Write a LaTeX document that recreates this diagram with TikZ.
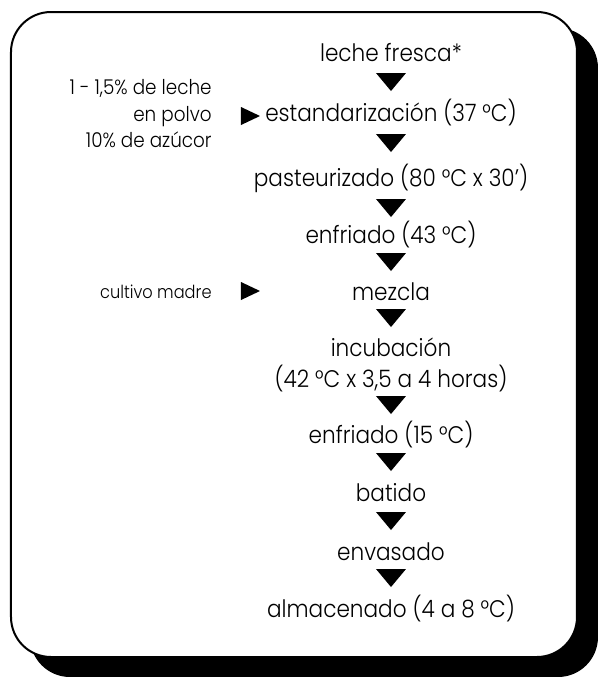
\documentclass[tikz,border=0pt]{standalone}
\usepackage{fontspec}
\setmainfont{Poppins}[UprightFont=* Light,FakeStretch=0.9]
\usetikzlibrary{calc}
\tikzset{
  paso/.style={font=\fontsize{12}{15.5}\selectfont,align=center,inner sep=0pt},
  aporte/.style={font=\fontsize{10.2}{13.25}\selectfont,align=right,anchor=east,inner sep=0pt},
  caja/.style={line width=1pt,rounded corners=20pt}
}
\begin{document}
\begin{tikzpicture}[x=0.5pt,y=-0.5pt]
\useasboundingbox (0,0) rectangle (598,677);
% caja con sombra
\fill[black,caja] (30,28) rectangle (598,677);
\draw[caja,fill=white] (11,12) rectangle (577,657);
% pasos del proceso
\foreach \n/\y/\t in {lf/53/{leche fresca*},es/113/{estandarización (37 °C)},
  pa/178/{pasteurizado (80 °C x 30')},e1/235/{enfriado (43 °C)},mz/292/{mezcla},
  in/364.5/{incubación\\(42 °C x 3,5 a 4 horas)},e2/435/{enfriado (15 °C)},
  bt/493/{batido},en/552/{envasado},al/609/{almacenado (4 a 8 °C)}}
  \node[paso] (\n) at (391,\y) {\t};
\foreach \y in {82,143,208,262,318,405,462,521,578}
  \fill (391,\y) ++(-15,-9) -- ++(30,0) -- ++(-15,18) -- cycle;
% aportes laterales
\node[aporte] (lp) at (212,114) {1 - 1,5\% de leche\\en polvo\\10\% de azúcor};
\node[aporte,font=\fontsize{9}{11}\selectfont] (cm) at (212,292) {cultivo madre};
\foreach \y in {116,291}
  \fill (250,\y) ++(-9,-9) -- ++(0,18) -- ++(19,-9) -- cycle;
\end{tikzpicture}
\end{document}
